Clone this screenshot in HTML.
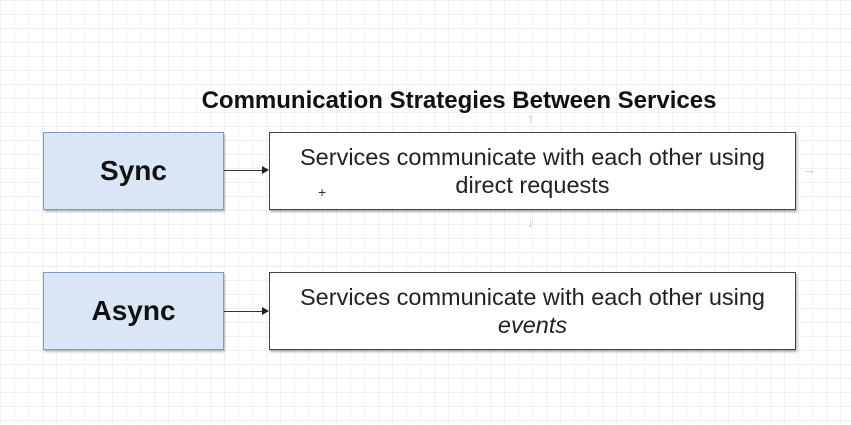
<!DOCTYPE html>
<html><head><style>
body{margin:0;width:851px;height:425px;overflow:hidden;background:#fff;
background-image:linear-gradient(#f0f0f0 1px,transparent 1px),linear-gradient(90deg,#f0f0f0 1px,transparent 1px);
background-size:14px 14px;font-family:"Liberation Sans",sans-serif;position:relative}
.t{position:absolute;left:0;width:918px;text-align:center;top:87px;font-weight:bold;font-size:24px;color:#111}
.l{position:absolute;left:43px;width:179px;height:76px;background:#dae6f6;border:1px solid #7f9bc4;box-shadow:1px 2px 2px rgba(0,0,0,.25);display:flex;align-items:center;justify-content:center;font-weight:bold;font-size:28px;color:#111}
.r{position:absolute;left:269px;width:525px;height:76px;background:#fff;border:1px solid #444;box-shadow:1px 2px 2px rgba(0,0,0,.3);display:flex;align-items:center;justify-content:center;text-align:center;font-size:23.5px;line-height:28px;color:#222}
.a{position:absolute;left:224px;width:40px;height:1px;background:#333}
.h{position:absolute;left:262px;width:0;height:0;border-left:7px solid #222;border-top:4px solid transparent;border-bottom:4px solid transparent}
</style></head><body>
<div class="t">Communication Strategies Between Services</div>
<div class="l" style="top:132px">Sync</div>
<div class="r" style="top:132px"><div>Services communicate with each other using<br>direct requests</div></div>
<div class="a" style="top:170px"></div><div class="h" style="top:166px"></div>
<div class="l" style="top:272px">Async</div>
<div class="r" style="top:272px"><div>Services communicate with each other using<br><i>events</i></div></div>
<div class="a" style="top:311px"></div><div class="h" style="top:307px"></div>
<div style="position:absolute;left:318px;top:184px;font-size:14px;color:#333">+</div>
<div style="position:absolute;left:527px;top:110px;color:#a8cbe8;font-size:14px">↑</div>
<div style="position:absolute;left:527px;top:214px;color:#a8cbe8;font-size:14px">↓</div>
<div style="position:absolute;left:802px;top:161px;color:#a8cbe8;font-size:14px">→</div>
</body></html>
